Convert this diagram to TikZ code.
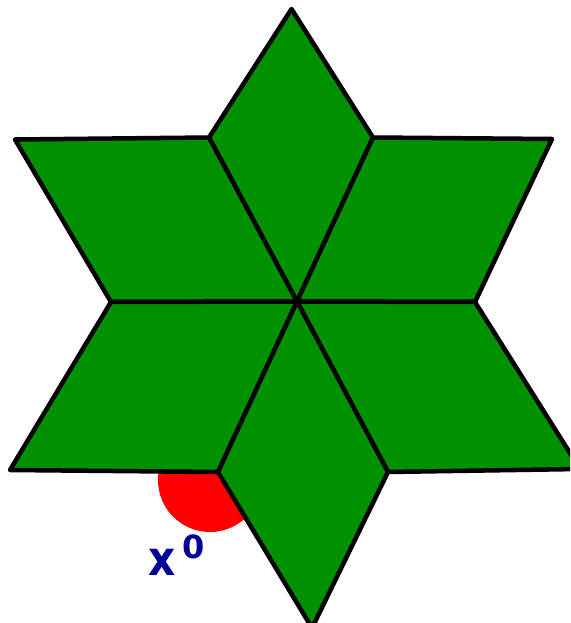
\documentclass[tikz,border=0pt]{standalone}
\usepackage{fontspec}
\newfontfamily\labelfont{DejaVu Sans}
\definecolor{stargreen}{RGB}{0,145,0}
\definecolor{labelblue}{RGB}{0,0,150}
\tikzset{
  rhomb/.style={fill=stargreen, draw=black, line width=4.5pt, line join=round},
  marker/.style={fill=red},
  lbl/.style={inner sep=0pt, anchor=base west, text=labelblue}
}
\begin{document}
\begin{tikzpicture}[x=1pt,y=-1pt]
\useasboundingbox (0,0) rectangle (570,623);
\clip (0,0) rectangle (570,623);
% vertices
\coordinate (T)   at (291.5,9);
\coordinate (A)   at (209,137.5);
\coordinate (B)   at (373,137.5);
\coordinate (LO)  at (15,139.5);
\coordinate (RO)  at (552,139);
\coordinate (ML)  at (111,302);
\coordinate (C)   at (297,301.5);
\coordinate (MR)  at (475,302);
\coordinate (LLO) at (10,470);
\coordinate (LLI) at (218,472);
\coordinate (LRI) at (388,472);
\coordinate (LRO) at (580,469);
\coordinate (Bot) at (312,628);
% red marker
\fill[marker] (210,480) circle (52);
% rhombi
\draw[rhomb] (T) -- (B) -- (C) -- (A) -- cycle;
\draw[rhomb] (LO) -- (A) -- (C) -- (ML) -- cycle;
\draw[rhomb] (B) -- (RO) -- (MR) -- (C) -- cycle;
\draw[rhomb] (ML) -- (C) -- (LLI) -- (LLO) -- cycle;
\draw[rhomb] (C) -- (MR) -- (LRO) -- (LRI) -- cycle;
\draw[rhomb] (C) -- (LRI) -- (Bot) -- (LLI) -- cycle;
% label
\node[lbl, font=\labelfont\bfseries\fontsize{48}{48}\selectfont] (xl) at (148.5,575.5) {\scalebox{0.88}[1]{x}};
\node[lbl, font=\labelfont\bfseries\fontsize{32}{32}\selectfont] (xs) at (182,558.5) {0};
\end{tikzpicture}
\end{document}
